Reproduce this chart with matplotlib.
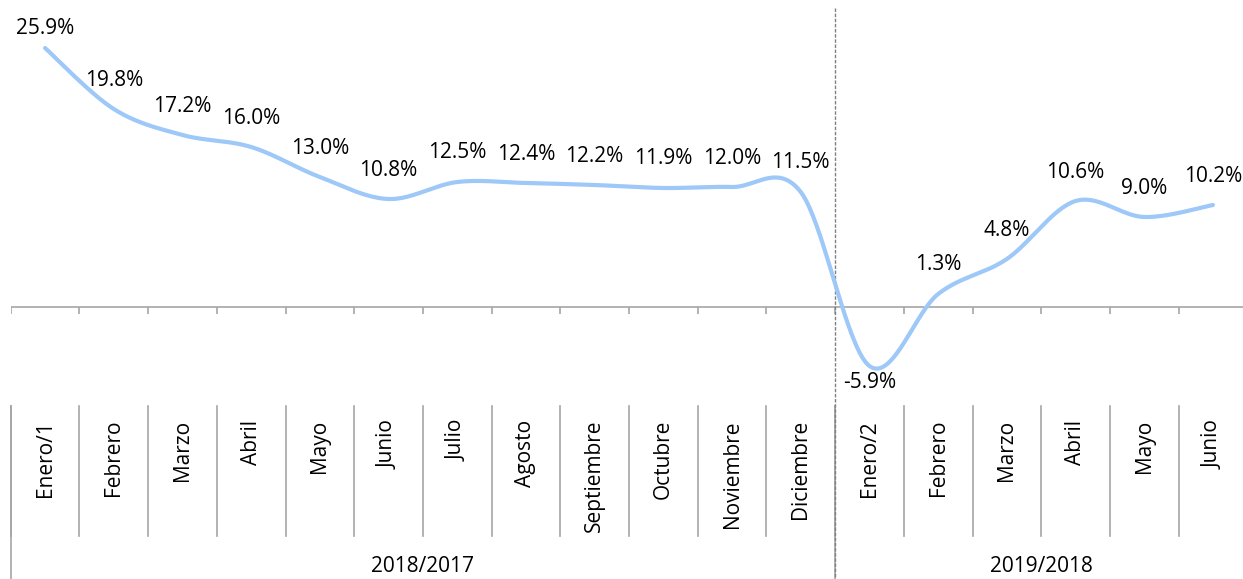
import numpy as np
import matplotlib
matplotlib.use("Agg")
import matplotlib.pyplot as plt
import matplotlib.transforms as mtransforms

plt.rcParams['font.family'] = ['Open Sans', 'DejaVu Sans']

# datos
meses = ['Enero/1', 'Febrero', 'Marzo', 'Abril', 'Mayo', 'Junio', 'Julio', 'Agosto',
         'Septiembre', 'Octubre', 'Noviembre', 'Diciembre',
         'Enero/2', 'Febrero', 'Marzo', 'Abril', 'Mayo', 'Junio']
valores = [25.9, 19.8, 17.2, 16.0, 13.0, 10.8, 12.5, 12.4, 12.2, 11.9, 12.0, 11.5,
           -5.9, 1.3, 4.8, 10.6, 9.0, 10.2]
periodos = ['2018/2017', '2019/2018']
meses_por_periodo = [12, 6]


def curva_suave(xs, ys, n=40):
    # linea suavizada tipo Excel (Catmull-Rom con Bezier)
    pts = np.column_stack([xs, ys]).astype(float)
    ext = np.vstack([pts[0], pts, pts[-1]])
    tramos = []
    t = np.linspace(0, 1, n)[:, None]
    for i in range(len(pts) - 1):
        p0, p1, p2, p3 = ext[i], ext[i + 1], ext[i + 2], ext[i + 3]
        c1 = p1 + (p2 - p0) / 6
        c2 = p2 - (p3 - p1) / 6
        tramos.append((1 - t) ** 3 * p1 + 3 * (1 - t) ** 2 * t * c1
                      + 3 * (1 - t) * t ** 2 * c2 + t ** 3 * p2)
    return np.vstack(tramos)


W, H = 1243, 579
fig = plt.figure(figsize=(W / 100, H / 100), dpi=100)

# area del grafico en pixeles
x0, paso = 10.7, 68.7
y_top, y_bot = 8, 400
ax = fig.add_axes([x0 / W, 1 - y_bot / H, 18 * paso / W, (y_bot - y_top) / H])
ax.set_xlim(-0.5, len(meses) - 0.5)
ax.set_ylim(-(y_bot - 307) / 10, (307 - y_top) / 10)
ax.axis('off')

gris = '#A6A6A6'
fs = 15
x = np.arange(len(meses))

# eje en cero con marcas hacia abajo
ax.axhline(0, color=gris, lw=1.2, zorder=1)
bordes = np.arange(len(meses) + 1) - 0.5
ax.vlines(bordes, -0.65, 0, color=gris, lw=1.2, zorder=1)

curva = curva_suave(x, valores)
ax.plot(curva[:, 0], curva[:, 1], color='#9DC8F8', lw=3, solid_capstyle='round', zorder=3)

for i, v in enumerate(valores):
    if v < 0:
        off = -16
    elif i == 0:
        off = 20
    else:
        off = 29
    ax.annotate(f"{v:.1f}%", (i, v), xytext=(0, off * 0.72), textcoords='offset points',
                ha='center', va='center', fontsize=fs, color='#000000')

# etiquetas de categorias debajo
tr = mtransforms.blended_transform_factory(ax.transData, fig.transFigure)
sep_top, sep_bot = 1 - 406 / H, 1 - 536 / H
for b in bordes:
    ax.plot([b, b], [sep_top, sep_bot], transform=tr, color=gris, lw=1.2, clip_on=False)

inicio = 0
for periodo, n in zip(periodos, meses_por_periodo):
    b = inicio - 0.5
    ax.plot([b, b], [sep_top, 0], transform=tr, color=gris, lw=1.2, clip_on=False)
    ax.text(inicio + (n - 1) / 2, 1 - 567 / H, periodo, transform=tr, ha='center', va='center',
            fontsize=fs, color='#000000')
    inicio += n

for i, m in enumerate(meses):
    ax.text(i, 1 - 420 / H, m, transform=tr, rotation=90, ha='center', va='top',
            fontsize=fs, color='#000000')

# linea punteada entre periodos
ax.plot([11.5, 11.5], [1 - 8 / H, 0], transform=tr, color='#808080', lw=1,
        linestyle=(0, (2.5, 1.2)), clip_on=False, zorder=2)

fig.savefig('out.png', dpi=100)
